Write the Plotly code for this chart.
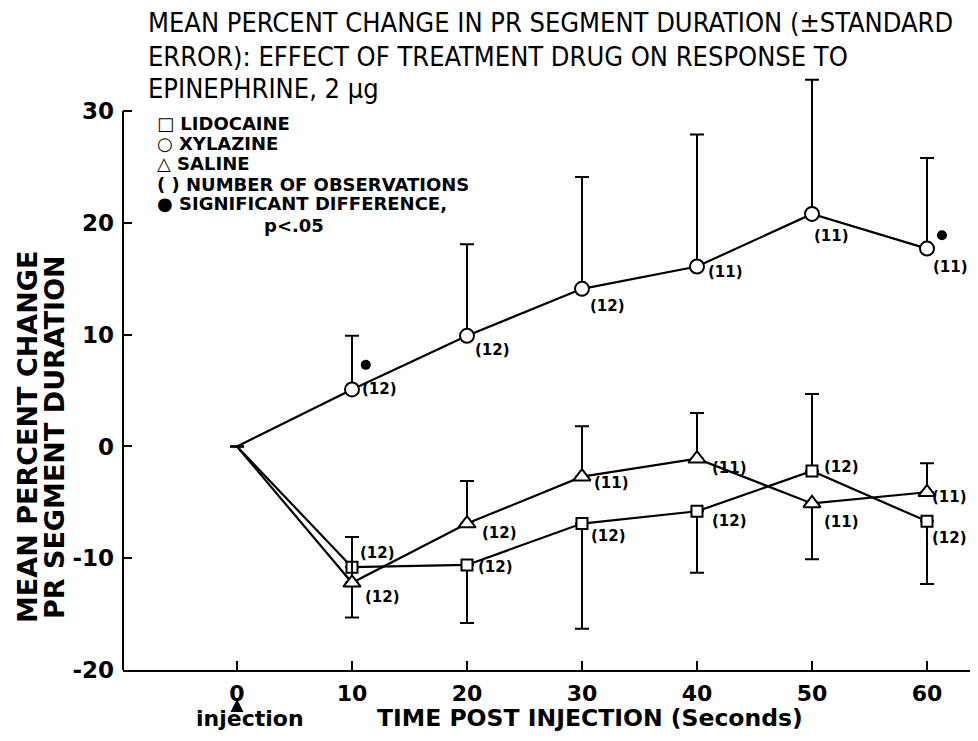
import plotly.graph_objects as go

# ---------------- data ----------------
time_s = [0, 10, 20, 30, 40, 50, 60]

xylazine_mean = [0, 5.1, 9.9, 14.1, 16.1, 20.8, 17.7]
xylazine_se_up = [0, 4.8, 8.2, 10.0, 11.8, 12.0, 8.1]
xylazine_se_down = [0, 0, 0, 0, 0, 0, 0]
xylazine_n = [None, 12, 12, 12, 11, 11, 11]

lidocaine_mean = [0, -10.8, -10.6, -6.9, -5.8, -2.2, -6.7]
lidocaine_se_up = [0, 0, 0, 0, 0, 6.9, 0]
lidocaine_se_down = [0, 4.5, 5.2, 9.4, 5.5, 0, 5.6]
lidocaine_n = [None, 12, 12, 12, 12, 12, 12]

saline_mean = [0, -12.2, -6.9, -2.7, -1.1, -5.1, -4.1]
saline_se_up = [0, 4.1, 3.8, 4.5, 4.1, 0, 2.6]
saline_se_down = [0, 0, 0, 0, 0, 5.0, 0]
saline_n = [None, 12, 12, 11, 11, 11, 11]

signif_x = [11.2, 61.3]
signif_y = [7.3, 18.9]

x_ticks = [0, 10, 20, 30, 40, 50, 60]
y_ticks = [-20, -10, 0, 10, 20, 30]

title_lines = [
    "MEAN PERCENT CHANGE IN PR SEGMENT DURATION (±STANDARD",
    "ERROR): EFFECT OF TREATMENT DRUG ON RESPONSE TO",
    "EPINEPHRINE, 2 µg",
]
legend_lines = [
    "□ LIDOCAINE",
    "○ XYLAZINE",
    "△ SALINE",
    "( ) NUMBER OF OBSERVATIONS",
    "● SIGNIFICANT DIFFERENCE,",
    "p<.05",
]
y_title_lines = ["MEAN PERCENT CHANGE", "PR SEGMENT DURATION"]
x_title = "TIME POST INJECTION (Seconds)"
injection_label = "injection"

# ---------------- layout geometry ----------------
OFF = 8                      # page body margin
W, H = 978 - 2 * OFF, 741 - 2 * OFF
ML, MR, MT = 115, 0, 64
MB = H - (670 - OFF)
PW, PH = W - ML - MR, H - MT - MB

NARROW = "Liberation Sans Narrow, DejaVu Sans Condensed, Arial Narrow, sans-serif"
BOLD = "DejaVu Sans, Verdana, sans-serif"


def paper(xr, yr):
    """reference-image pixel -> paper coords"""
    return (xr - OFF - ML) / PW, (H - MB - (yr - OFF)) / PH


fig = go.Figure()


def add_series(name, y, up, down, symbol, size):
    sizes = [0] + [size] * (len(y) - 1)
    fig.add_trace(go.Scatter(
        x=time_s, y=y, name=name, mode="lines+markers",
        line=dict(color="black", width=2.2),
        marker=dict(symbol=symbol, size=sizes, color="#ffffff", opacity=1,
                    line=dict(color="black", width=2)),
        error_y=dict(type="data", symmetric=False, array=up, arrayminus=down,
                     color="black", thickness=2, width=7),
        showlegend=False,
    ))


add_series("Xylazine", xylazine_mean, xylazine_se_up, xylazine_se_down, "circle", 14)
add_series("Lidocaine", lidocaine_mean, lidocaine_se_up, lidocaine_se_down, "square", 11)
add_series("Saline", saline_mean, saline_se_up, saline_se_down, "triangle-up", 15)

fig.add_trace(go.Scatter(
    x=signif_x, y=signif_y, mode="markers", showlegend=False,
    marker=dict(symbol="circle", size=10, color="black"),
))

# observation-count labels: (xshift, yshift) per point, in pixels
xyl_off = [None, (8, 0), (6, -14), (6, -17), (9, -6), (0, -22), (4, -18)]
lido_off = [None, (6, 14), (9, -2), (7, -12), (13, -10), (10, 4), (3, -17)]
sal_off = [None, (11, -14), (13, -9), (10, -6), (13, -9), (10, -19), (3, -5)]

for ys, ns, offs in [
    (xylazine_mean, xylazine_n, xyl_off),
    (lidocaine_mean, lidocaine_n, lido_off),
    (saline_mean, saline_n, sal_off),
]:
    for xv, yv, n, off in zip(time_s, ys, ns, offs):
        if n is None:
            continue
        fig.add_annotation(
            x=xv, y=yv, text=f"({n})", showarrow=False,
            xanchor="left", yanchor="middle",
            xshift=off[0], yshift=off[1],
            font=dict(family=BOLD, size=15, color="black", weight="bold"),
        )

# title (three lines)
for txt, yr in zip(title_lines, [22, 56, 89]):
    px_, py_ = paper(146, yr)
    fig.add_annotation(
        xref="paper", yref="paper", x=px_, y=py_, text=txt,
        showarrow=False, xanchor="left", yanchor="middle",
        font=dict(family=NARROW, size=27, color="black"),
    )

# legend block
legend_y_px = [123, 143, 163, 184, 204, 225]
legend_x_px = [155, 155, 155, 155, 155, 262]
for txt, xr, yr in zip(legend_lines, legend_x_px, legend_y_px):
    px_, py_ = paper(xr, yr)
    fig.add_annotation(
        xref="paper", yref="paper", x=px_, y=py_,
        text=txt, showarrow=False, xanchor="left", yanchor="middle",
        font=dict(family=BOLD, size=18, color="black", weight="bold"),
    )

# y-axis title (two rotated lines)
for txt, xr in zip(y_title_lines, [28, 55]):
    px_, py_ = paper(xr, 437)
    fig.add_annotation(
        xref="paper", yref="paper", x=px_, y=py_, text=txt,
        textangle=-90, showarrow=False, xanchor="center", yanchor="middle",
        font=dict(family=BOLD, size=27, color="black", weight="bold"),
    )

# x-axis title
px_, py_ = paper(590, 718)
fig.add_annotation(
    xref="paper", yref="paper", x=px_, y=py_, text=x_title, showarrow=False,
    xanchor="center", yanchor="middle",
    font=dict(family=BOLD, size=23.5, color="black", weight="bold"),
)

# injection label and upward arrow under the 0 tick label
px_, py_ = paper(250, 718)
fig.add_annotation(
    xref="paper", yref="paper", x=px_, y=py_, text=injection_label,
    showarrow=False, xanchor="center", yanchor="middle",
    font=dict(family=BOLD, size=22, color="black", weight="bold"),
)
_, py_ = paper(0, 699)
fig.add_annotation(
    x=0, xref="x", yref="paper", y=py_, text="",
    showarrow=True, arrowhead=2, arrowsize=1.3, arrowwidth=2,
    arrowcolor="black", ax=0, ay=11, standoff=0,
)

# y-axis line only from -20 to 30 (data range extends higher for the error bar)
fig.add_shape(type="line", xref="paper", x0=0, x1=0, yref="y", y0=-20, y1=30,
              line=dict(color="black", width=2))

fig.update_layout(
    width=W, height=H,
    margin=dict(l=ML, r=MR, t=MT, b=MB, autoexpand=False),
    paper_bgcolor="white", plot_bgcolor="white",
    xaxis=dict(
        range=[-9.913, 63.74], tickvals=x_ticks,
        ticktext=[str(v) for v in x_ticks],
        showline=True, linecolor="black", linewidth=2,
        ticks="inside", ticklen=9, tickwidth=2, tickcolor="black",
        showgrid=False, zeroline=False, ticklabelstandoff=3,
        tickfont=dict(family=BOLD, size=22, color="black", weight="bold"),
    ),
    yaxis=dict(
        range=[-20, 33.5], tickvals=y_ticks,
        ticktext=[str(v) for v in y_ticks],
        showline=False,
        ticks="inside", ticklen=9, tickwidth=2, tickcolor="black",
        showgrid=False, zeroline=False, ticklabelstandoff=8,
        tickfont=dict(family=BOLD, size=23, color="black", weight="bold"),
    ),
)

fig.write_html("out.html")
